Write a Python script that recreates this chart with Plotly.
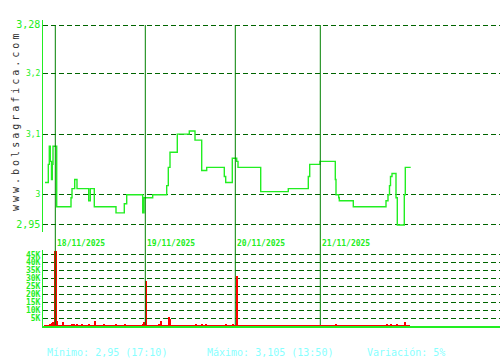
import plotly.graph_objects as go

# ---- data (x = sample index along the intraday time axis) ----
price_idx = [2, 5.3, 6.3, 7.3, 8.5, 9.3, 10, 13.7, 28, 29, 31.7, 34, 45.7, 47.3, 51.3, 73,
             81.3, 83.7, 99.7, 101, 109.7, 123.7, 125.3, 127, 134.3, 146.3, 152, 158.7,
             163.7, 181.3, 182.7, 189.3, 193.7, 195, 217.7, 245.3, 265.3, 266.7, 277,
             292.3, 293, 295.7, 296.3, 310.3, 343, 345, 346.5, 347.5, 349, 353, 354.3,
             361.3, 362.3, 367.7]
price_val = [3.02, 3.05, 3.08, 3.055, 3.025, 3.05, 3.08, 2.98, 2.995, 3.01, 3.025, 3.01, 2.99,
             3.01, 2.98, 2.97, 2.985, 3.0, 2.97, 2.995, 3.0, 3.015, 3.045, 3.07, 3.1, 3.105,
             3.09, 3.04, 3.045, 3.03, 3.02, 3.06, 3.055, 3.045, 3.005, 3.01, 3.03, 3.05,
             3.055, 3.025, 3.0, 2.995, 2.99, 2.98, 2.99, 3.0, 3.015, 3.03, 3.035, 2.995,
             2.95, 3.0, 3.045, 3.045]

vol_idx = [7, 8.7, 9.7, 12.7, 14, 20.3, 29.3, 31.3, 34.3, 38.7, 46.3, 52.3, 61.3, 73.3, 82.3,
           100.3, 101.3, 103, 116.3, 118.3, 126.3, 127.3, 153.3, 159.3, 163.3, 183, 190.3,
           193.7, 293, 344, 348.3, 354, 362.3]
vol_val = [1500, 2000, 2700, 47500, 3200, 2500, 1000, 1000, 1000, 1000, 1300, 3000, 1000,
           1300, 1300, 1500, 2500, 28400, 1500, 3000, 5700, 4600, 1000, 1500, 1000, 1500,
           1000, 31600, 1000, 1500, 1500, 1000, 2500]
vol_width = [1, 1, 1, 1.6, 1, 1, 1, 1, 1, 1, 1, 1, 1, 1, 1, 1, 1, 1.4, 1, 1, 1, 1, 1, 1, 1,
             1, 1, 2, 1, 1, 1, 1, 1]
base_idx = [1, 367]
base_val = [600, 600]

day_idx = [12.3, 102.3, 192.3, 277.3]
day_labels = ["18/11/2025", "19/11/2025", "20/11/2025", "21/11/2025"]

price_ticks = [2.95, 3.0, 3.1, 3.2, 3.28]
price_tick_text = ['<span style="font-size:10px">2,95</span>', "3", "3,1", "3,2",
                   '<span style="font-size:10px">3,28</span>']
vol_ticks = [5000, 10000, 15000, 20000, 25000, 30000, 35000, 40000, 45000]
vol_tick_text = ["5K", "10K", "15K", "20K", "25K", "30K", "35K", "40K", "45K"]

stats = ["Mínimo: 2,95 (17:10)", "Máximo: 3,105 (13:50)", "Variación: 5%"]
site = "www.bolsagrafica.com"

# ---- figure ----
W, H, L, T, B = 500, 360, 43, 20, 34
PH = H - T - B          # plot height in px
PW = W - L              # plot width in px


def py(pix):            # pixel y -> paper y
    return (H - B - pix) / PH


def px(pix):            # pixel x -> paper x
    return (pix - L) / PW


GREEN = "#22ee22"
MONO = "DejaVu Sans Mono"

fig = go.Figure()
fig.add_trace(go.Scatter(x=price_idx, y=price_val, mode="lines", line_shape="hv",
                         line=dict(color=GREEN, width=1.4), yaxis="y", hoverinfo="skip"))
fig.add_trace(go.Scatter(x=base_idx, y=base_val, mode="lines", fill="tozeroy",
                         line=dict(color="#ff0000", width=0), fillcolor="#ff0000",
                         yaxis="y2", hoverinfo="skip"))
fig.add_trace(go.Bar(x=vol_idx, y=vol_val, width=vol_width, marker=dict(color="#ff0000",
                     line=dict(width=0)), yaxis="y2", hoverinfo="skip"))

shapes = []
annotations = []
for d, lab in zip(day_idx, day_labels):
    shapes.append(dict(type="line", xref="x", yref="paper", x0=d, x1=d,
                       y0=py(325), y1=py(25), line=dict(color="#008000", width=1),
                       layer="above"))
    annotations.append(dict(x=d, xref="x", y=py(243), yref="paper", text=lab,
                            showarrow=False, xanchor="left", yanchor="middle", xshift=0,
                            font=dict(family=MONO, size=8, color=GREEN, weight="bold")))

for s, xp in zip(stats, [45, 205, 365]):
    annotations.append(dict(x=px(xp), xref="paper", y=py(352), yref="paper", text=s,
                            showarrow=False, xanchor="left", yanchor="middle",
                            font=dict(family=MONO, size=10, color="#88ffff")))

annotations.append(dict(x=px(15), xref="paper", y=py(121), yref="paper", text=site,
                        showarrow=False, textangle=-90, xanchor="center", yanchor="middle",
                        font=dict(family=MONO, size=10, color="#333333")))

fig.update_layout(
    width=W, height=H, margin=dict(l=L, r=0, t=T, b=B, pad=0),
    paper_bgcolor="white", plot_bgcolor="white", showlegend=False, bargap=0,
    xaxis=dict(range=[0, PW], showticklabels=False, showgrid=False, zeroline=False,
               showline=True, linecolor=GREEN, linewidth=2, anchor="y2", ticks=""),
    yaxis=dict(domain=[py(232), 1], range=[2.9384, 3.2883], tickmode="array",
               tickvals=price_ticks, ticktext=price_tick_text, showgrid=True,
               gridcolor="#006400", griddash="5px,3px", gridwidth=1, zeroline=False,
               showline=True, linecolor=GREEN, linewidth=1, ticks="",
               tickfont=dict(family=MONO, size=8, color=GREEN), anchor="x"),
    yaxis2=dict(domain=[0, py(250)], range=[0, 48000], tickmode="array",
                tickvals=vol_ticks, ticktext=vol_tick_text, showgrid=True,
                gridcolor="#006400", griddash="5px,3px", gridwidth=1, zeroline=False,
                showline=True, linecolor=GREEN, linewidth=1, ticks="",
                tickfont=dict(family=MONO, size=8, color=GREEN, weight="bold"), anchor="x"),
    shapes=shapes, annotations=annotations,
)

post = """
document.querySelectorAll('text').forEach(function(t){
  if (t.textContent === 'www.bolsagrafica.com') { t.setAttribute('letter-spacing', '3px'); }
});
"""
fig.write_html("out.html", post_script=post)
